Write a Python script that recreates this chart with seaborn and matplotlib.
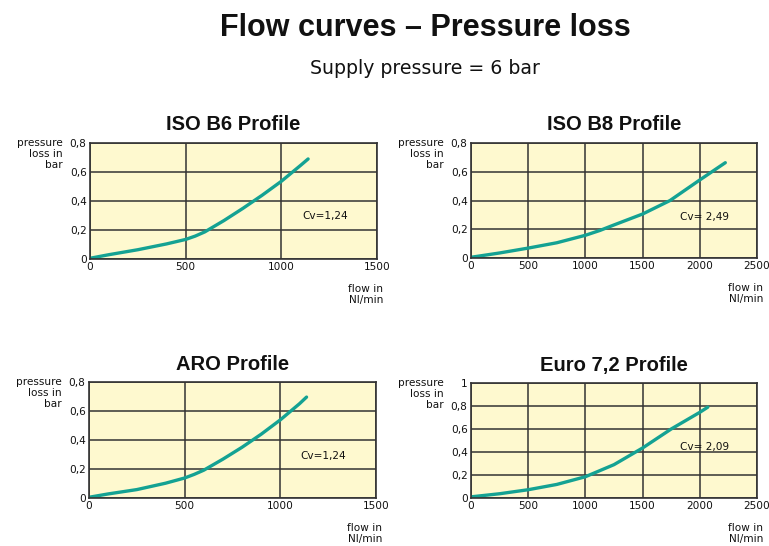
import matplotlib
matplotlib.use("Agg")
import matplotlib.pyplot as plt
import seaborn as sns
import pandas as pd

# ---- data ----
b6_flow = [0, 100, 250, 400, 500, 550, 600, 700, 800, 900, 1000, 1100, 1140]
b6_loss = [0.005, 0.03, 0.064, 0.104, 0.135, 0.158, 0.187, 0.265, 0.35, 0.44, 0.536, 0.645, 0.69]

b8_flow = [0, 250, 500, 750, 1000, 1128, 1250, 1500, 1740, 2000, 2223]
b8_loss = [0.005, 0.035, 0.069, 0.106, 0.158, 0.192, 0.23, 0.306, 0.40, 0.543, 0.663]

aro_flow = [0, 100, 250, 400, 500, 550, 600, 700, 800, 900, 1000, 1100, 1137]
aro_loss = [0.005, 0.028, 0.058, 0.102, 0.138, 0.163, 0.192, 0.268, 0.35, 0.44, 0.539, 0.65, 0.696]

euro_flow = [0, 250, 500, 750, 1000, 1250, 1500, 1750, 2000, 2070]
euro_loss = [0.01, 0.037, 0.072, 0.118, 0.185, 0.29, 0.435, 0.6, 0.745, 0.79]

titles = ["ISO B6 Profile", "ISO B8 Profile", "ARO Profile", "Euro 7,2 Profile"]
cv_labels = ["Cv=1,24", "Cv= 2,49", "Cv=1,24", "Cv= 2,09"]
cv_pos = [(1228, 0.30), (2045, 0.285), (1223, 0.29), (2045, 0.443)]
x_max = [1500, 2500, 1500, 2500]
x_ticks = [[0, 500, 1000, 1500], [0, 500, 1000, 1500, 2000, 2500],
           [0, 500, 1000, 1500], [0, 500, 1000, 1500, 2000, 2500]]
y_max = [0.8, 0.8, 0.8, 1.0]
y_ticks = [[0, 0.2, 0.4, 0.6, 0.8], [0, 0.2, 0.4, 0.6, 0.8],
           [0, 0.2, 0.4, 0.6, 0.8], [0, 0.2, 0.4, 0.6, 0.8, 1.0]]
series = [(b6_flow, b6_loss), (b8_flow, b8_loss), (aro_flow, aro_loss), (euro_flow, euro_loss)]

sns.set_theme(style="white")
plt.rcParams['font.family'] = ['Liberation Sans', 'DejaVu Sans']
SMALL = ["DejaVu Sans"]
SMALL_SIZE = 7.6

BG = "#FEF9CF"
LINE = "#14A293"
GRID = "#333333"
TXT = "#111111"

fig = plt.figure(figsize=(7.69, 5.46), dpi=100)
W, H = 769, 546

# axes boxes in pixels: left, top, right, bottom
boxes = [(90, 143, 377, 259), (471, 143, 757, 258), (89, 382, 376, 498), (471, 383, 757, 498)]


def fmt(v):
    if v == 0:
        return "0"
    if v == 1.0:
        return "1"
    return ("%.1f" % v).replace(".", ",")


for i, (l, t, r, b) in enumerate(boxes):
    ax = fig.add_axes([l / W, 1 - b / H, (r - l) / W, (b - t) / H])
    ax.set_facecolor(BG)
    df = pd.DataFrame({"flow": series[i][0], "loss": series[i][1]})
    sns.lineplot(data=df, x="flow", y="loss", ax=ax, color=LINE, linewidth=2.4,
                 sort=False, estimator=None)
    ax.set_xlim(0, x_max[i])
    ax.set_ylim(0, y_max[i])
    ax.set_xticks(x_ticks[i])
    ax.set_yticks(y_ticks[i])
    ax.set_xticklabels([str(v) for v in x_ticks[i]], fontsize=SMALL_SIZE, family=SMALL)
    ax.set_yticklabels([fmt(v) for v in y_ticks[i]], fontsize=SMALL_SIZE, family=SMALL)
    ax.tick_params(axis="both", length=0, pad=2.5, colors=TXT)
    ax.grid(True, color=GRID, linewidth=1.1)
    ax.set_axisbelow(True)
    for s in ax.spines.values():
        s.set_color(GRID)
        s.set_linewidth(1.2)
    ax.set_xlabel("")
    ax.set_ylabel("")
    ax.set_title(titles[i], fontsize=14.5, fontweight="bold", pad=9, color=TXT)
    ax.text(cv_pos[i][0], cv_pos[i][1], cv_labels[i], fontsize=SMALL_SIZE, ha="center",
            va="center", color=TXT, family=SMALL)
    # axis labels as figure text
    fig.text((l - 27) / W, 1 - (t - 5) / H, "pressure\nloss in\nbar", ha="right", va="top",
             fontsize=SMALL_SIZE, linespacing=1.12, color=TXT, family=SMALL)
    fig.text((r + 6) / W, 1 - (b + 25) / H, "flow in\nNl/min", ha="right", va="top",
             fontsize=SMALL_SIZE, linespacing=1.12, color=TXT, family=SMALL)

fig.text(425 / W, 1 - 28 / H, "Flow curves \u2013 Pressure loss", ha="center", va="center",
         fontsize=22, fontweight="bold", color=TXT)
fig.text(425 / W, 1 - 68 / H, "Supply pressure = 6 bar", ha="center", va="center",
         fontsize=13.6, color=TXT, family=["DejaVu Sans"])

fig.savefig("out.png", dpi=100, facecolor="white")
